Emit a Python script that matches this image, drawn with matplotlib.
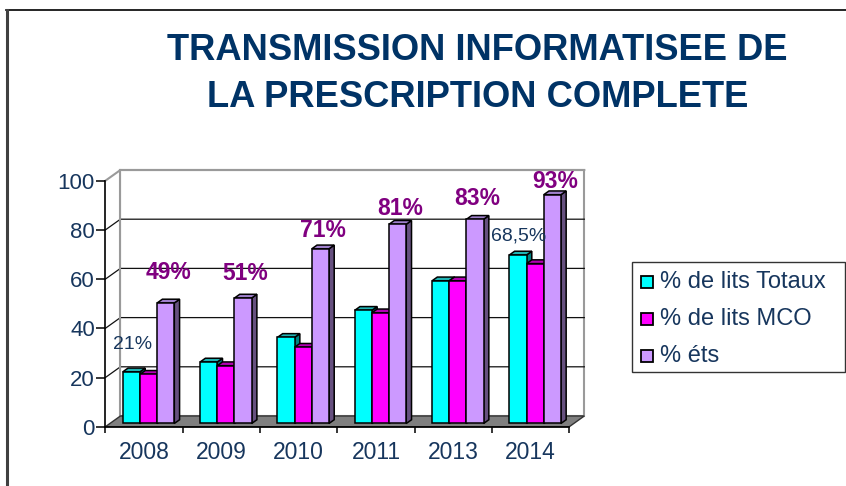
import matplotlib
matplotlib.use("Agg")
import matplotlib.pyplot as plt
from matplotlib.patches import Polygon, Rectangle
from matplotlib.lines import Line2D
import numpy as np

# =========================================================
# DONNEES
# =========================================================
years = ["2008", "2009", "2010", "2011", "2013", "2014"]
lits_totaux = [21, 25, 35, 46, 58, 68.5]
lits_mco = [20, 23.5, 31, 45, 58, 65]
etablissements = [49, 51, 71, 81, 83, 93]
series_names = ["% de lits Totaux", "% de lits MCO", "% éts"]

ets_labels = ["49%", "51%", "71%", "81%", "83%", "93%"]
totaux_notes = {0: "21%", 5: "68,5%"}
title_lines = ["TRANSMISSION INFORMATISEE DE", "LA PRESCRIPTION COMPLETE"]

# hauteur des etiquettes au-dessus des barres (placement manuel du document)
ets_label_lift = [13.5, 11.1, 8.6, 7.7, 9.9, 6.5]
totaux_note_shift = {0: (0.075, 12.6), 5: (0.063, 9.0)}

# =========================================================
# STYLE
# =========================================================
plt.rcParams["font.family"] = ["Liberation Sans", "DejaVu Sans"]

W_PX, H_PX = 846, 486
NAVY = "#17365D"
face_colors = ["#00FFFF", "#FF00FF", "#CC99FF"]
top_colors = ["#1FB3B3", "#B300B3", "#9F80CC"]
side_colors = ["#008080", "#800080", "#66507F"]


def fx(px):
    return px / W_PX


def fy(py):
    return 1 - py / H_PX


fig = plt.figure(figsize=(W_PX / 100, H_PX / 100), dpi=100)
fig.patch.set_facecolor("white")

# cadre de la diapositive
fig.add_artist(Line2D([fx(6), fx(846)], [fy(10.5), fy(10.5)],
                      color="black", lw=1.2))
fig.add_artist(Line2D([fx(6.5), fx(6.5)], [fy(10), fy(486)],
                      color="#404040", lw=2.2))

# titre
for k, line in enumerate(title_lines):
    fig.text(fx(477.5), fy(50 + 47 * k), line, ha="center", va="center",
             fontsize=26.2, fontweight="bold", color="#003366")

# =========================================================
# AXES (plan avant du graphique 3D)
# =========================================================
ax = fig.add_axes([fx(105.4), fy(426.7), (569.3 - 105.4) / W_PX,
                   (426.7 - 180.7) / H_PX])
ax.set_xlim(-0.5, 5.5)
ax.set_ylim(0, 100)
ax.patch.set_visible(False)

n = len(years)
DX = 15 / ((569.3 - 105.4) / n)      # profondeur en unites x
DY = 10.7 / ((426.7 - 180.7) / 100)  # profondeur en unites y
x0, x1 = -0.5, n - 0.5

# parois
ax.add_patch(Polygon([(x0 + DX, DY), (x1 + DX, DY), (x1 + DX, 100 + DY),
                      (x0 + DX, 100 + DY)], closed=True, facecolor="white",
                     edgecolor="#9A9A9A", lw=1.5, zorder=0.5, clip_on=False))
ax.add_patch(Polygon([(x0, 0), (x0 + DX, DY), (x0 + DX, 100 + DY), (x0, 100)],
                     closed=True, facecolor="white", edgecolor="none",
                     zorder=0.6, clip_on=False))
for v in range(20, 100, 20):
    ax.plot([x0, x0 + DX, x1 + DX], [v, v + DY, v + DY], color="#111111",
            lw=0.9, zorder=1, clip_on=False)
ax.plot([x0, x0 + DX, x1 + DX], [100, 100 + DY, 100 + DY], color="#9A9A9A",
        lw=1.5, zorder=1, clip_on=False)
ax.plot([x0 + DX, x0 + DX], [DY, 100 + DY], color="#9A9A9A", lw=1.5,
        zorder=1, clip_on=False)

# sol
ax.add_patch(Polygon([(x0, 0), (x1, 0), (x1 + DX, DY), (x0 + DX, DY)],
                     closed=True, facecolor="#7F7F7F", edgecolor="#333333",
                     lw=1, zorder=2, clip_on=False))

# =========================================================
# BARRES 3D
# =========================================================
series = [lits_totaux, lits_mco, etablissements]
bw = 2 / 9
f0, f1 = 0.3, 0.65
z = 3
for i in range(n):
    for j, values in enumerate(series):
        v = values[i]
        left = i + (j - 1) * bw - bw / 2
        right = left + bw
        front = [(left + f0 * DX, f0 * DY), (right + f0 * DX, f0 * DY),
                 (right + f0 * DX, v + f0 * DY), (left + f0 * DX, v + f0 * DY)]
        top = [(left + f0 * DX, v + f0 * DY), (right + f0 * DX, v + f0 * DY),
               (right + f1 * DX, v + f1 * DY), (left + f1 * DX, v + f1 * DY)]
        side = [(right + f0 * DX, f0 * DY), (right + f1 * DX, f1 * DY),
                (right + f1 * DX, v + f1 * DY), (right + f0 * DX, v + f0 * DY)]
        for poly, col in ((side, side_colors[j]), (top, top_colors[j]),
                          (front, face_colors[j])):
            ax.add_patch(Polygon(poly, closed=True, facecolor=col,
                                 edgecolor="black", lw=1.1, zorder=z,
                                 clip_on=False))
        z += 0.01

# etiquettes
mid = (f0 + f1) / 2
for i, (v, lab) in enumerate(zip(etablissements, ets_labels)):
    xc = i + bw + mid * DX
    ax.text(xc, v + ets_label_lift[i], lab, ha="center", va="center",
            fontsize=16.5, fontweight="bold", color="#800080", zorder=10,
            clip_on=False)
for i, lab in totaux_notes.items():
    ddx, ddy = totaux_note_shift[i]
    ax.text(i - bw + ddx, lits_totaux[i] + ddy, lab, ha="center", va="center",
            fontsize=14, color=NAVY, zorder=10, clip_on=False)

# =========================================================
# AXES / GRADUATIONS
# =========================================================
for s in ("top", "right"):
    ax.spines[s].set_visible(False)
for s in ("left", "bottom"):
    ax.spines[s].set_color("black")
    ax.spines[s].set_linewidth(1.2)
    ax.spines[s].set_zorder(5)

ax.set_yticks(range(0, 101, 20))
ax.tick_params(axis="y", length=6.5, width=1.1, color="black", pad=1,
               labelsize=16, labelcolor=NAVY)
ax.set_xticks(np.arange(x0, x1 + 0.01, 1))
ax.set_xticklabels([])
ax.set_xticks(range(n), minor=True)
ax.set_xticklabels(years, minor=True)
ax.tick_params(axis="x", which="major", length=4.5, width=1.1, color="black")
ax.tick_params(axis="x", which="minor", length=0, pad=10, labelsize=16.5,
               labelcolor=NAVY)

# =========================================================
# LEGENDE
# =========================================================
fig.add_artist(Rectangle((fx(632), fy(372)), 213 / W_PX, 110 / H_PX,
                         transform=fig.transFigure, facecolor="white",
                         edgecolor="#333333", lw=1))
for k, name in enumerate(series_names):
    yc = 281.7 + 37.2 * k
    fig.add_artist(Rectangle((fx(640.5), fy(yc + 6)), 12 / W_PX, 12 / H_PX,
                             transform=fig.transFigure,
                             facecolor=face_colors[k], edgecolor="black",
                             lw=1.3))
    fig.text(fx(660), fy(yc), name, ha="left", va="center", fontsize=17,
             color=NAVY)

fig.savefig("out.png", dpi=100)
